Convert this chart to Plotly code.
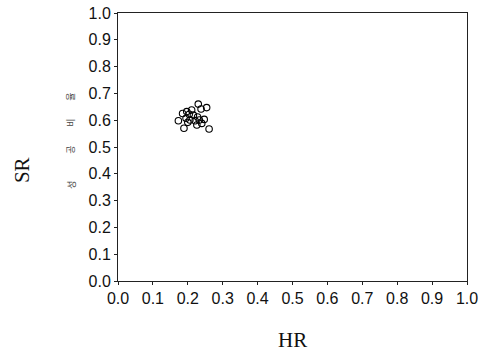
import plotly.graph_objects as go

hr = [0.173, 0.189, 0.197, 0.211, 0.204, 0.216, 0.195, 0.206, 0.230, 0.238,
      0.254, 0.221, 0.233, 0.247, 0.226, 0.240, 0.261, 0.200, 0.228, 0.185]
sr = [0.598, 0.570, 0.632, 0.638, 0.622, 0.619, 0.607, 0.601, 0.660, 0.642,
      0.647, 0.598, 0.601, 0.603, 0.582, 0.588, 0.567, 0.592, 0.612, 0.625]
ticks = [i / 10 for i in range(11)]
tick_labels = [f"{t:.1f}" for t in ticks]
side_label = ["성", "공", "비", "율"]
side_pos = [0.358, 0.489, 0.590, 0.687]

fig = go.Figure()
fig.add_trace(go.Scatter(
    x=hr, y=sr, mode="markers",
    marker=dict(symbol="circle-open", size=6.5, color="black", line=dict(width=1.1)),
    showlegend=False,
))

axis_common = dict(
    range=[0, 1], tickvals=ticks, ticktext=tick_labels, automargin=False,
    showgrid=False, zeroline=False, showline=True, linecolor="#222", linewidth=1,
    mirror=True, ticks="outside", ticklen=3, tickcolor="#222",
    tickfont=dict(family="Liberation Sans, Arial", size=16, color="#111"),
)

annotations = [
    dict(text="HR", xref="paper", yref="paper", x=0.5, y=-0.22, yanchor="middle",
         showarrow=False, font=dict(family="Liberation Serif, Times New Roman", size=21, color="#111")),
    dict(text="SR", xref="paper", x=-0.275, xanchor="center", yref="paper", y=0.414,
         yanchor="middle", showarrow=False, textangle=-90,
         font=dict(family="Liberation Serif, Times New Roman", size=21, color="#111")),
]
for ch, p in zip(side_label, side_pos):
    annotations.append(dict(text=ch, xref="paper", x=-0.135, xanchor="center",
                            yref="paper", y=p, yanchor="middle", showarrow=False,
                            textangle=-90,
                            font=dict(family="Noto Sans CJK KR", size=9, color="#444")))

fig.update_layout(
    width=482, height=362,
    margin=dict(l=118, r=15, t=13, b=81, pad=0),
    paper_bgcolor="white", plot_bgcolor="white",
    xaxis=dict(**axis_common),
    yaxis=dict(**axis_common),
    annotations=annotations,
)

fig.write_html("out.html", config={"displayModeBar": False},
               post_script="document.body.style.margin='0';")
